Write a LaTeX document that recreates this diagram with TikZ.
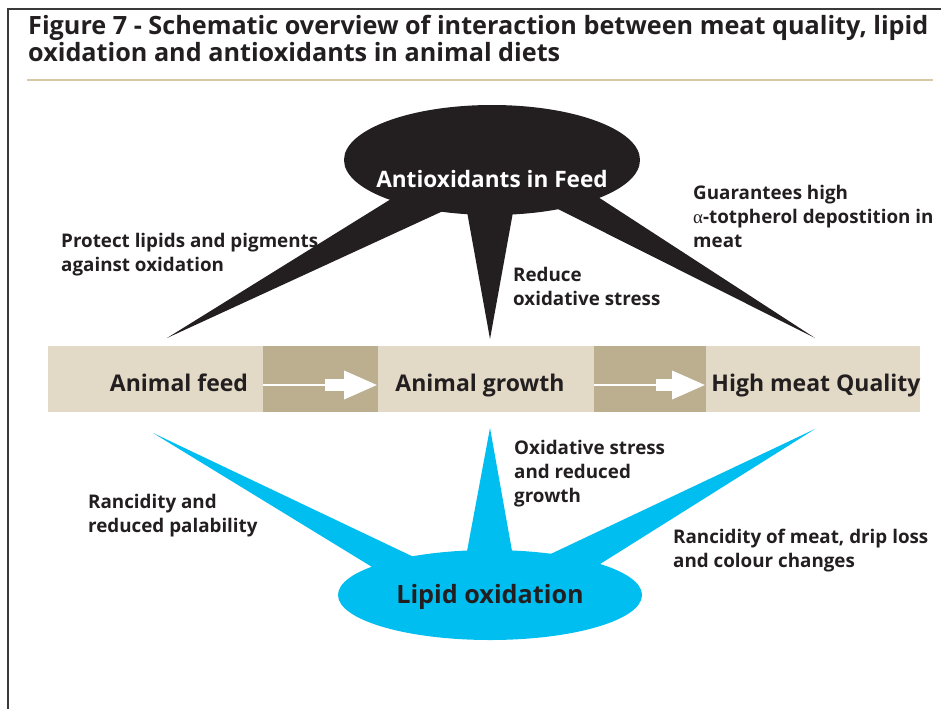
\documentclass[tikz,border=0pt]{standalone}
\usepackage{fontspec}
\setmainfont{Open Sans}
\newfontfamily\greekserif{Liberation Serif}
\usetikzlibrary{shapes.geometric,arrows.meta}

\definecolor{ink}{HTML}{231F20}
\definecolor{framegray}{HTML}{3A3A3A}
\definecolor{rulegold}{HTML}{D6CAA6}
\definecolor{sky}{HTML}{00BEF0}
\definecolor{sand}{HTML}{E2DAC7}
\definecolor{khaki}{HTML}{BCAF90}

\begin{document}
\begin{tikzpicture}[x=1pt,y=-1pt,
  every node/.style={inner sep=0pt},
  % multi-line nodes: the base anchor sits on the last line
  titletext/.style={anchor=base west, align=left, text=ink,
    font=\bfseries\fontsize{25.2}{24}\selectfont},
  note/.style={anchor=base west, align=left, text=ink,
    font=\bfseries\fontsize{18.8}{24}\selectfont},
  bandtext/.style={anchor=base, text=ink,
    font=\bfseries\fontsize{23}{26}\selectfont},
  bandbox/.style={rectangle, minimum height=66pt},
  shaft/.style={draw=white, line width=2pt},
  blockarrow/.style={draw=white, line width=12pt,
    -{Triangle[length=34pt,width=26pt]}},
]
\useasboundingbox (0,0) rectangle (941,709);

% outer frame (top and left edges)
\draw[framegray, line width=2pt] (941,9) -- (8,9) -- (8,709);

% heading and rule
\node[titletext] (title) at (28,61)
  {Figure 7 - Schematic overview of interaction between meat quality, lipid\\
   oxidation and antioxidants in animal diets};
\draw[rulegold, line width=2.7pt] (27,80) -- (933,80);

% antioxidant bubble with its three spikes
\node[ellipse, fill=ink, minimum width=296pt, minimum height=110pt] (anti) at (492,160) {};
\coordinate (tipfeed)    at (167,338);
\coordinate (tipgrowth)  at (490,339);
\coordinate (tipquality) at (815,338);
\fill[ink] (412,186) -- (tipfeed) -- (467,200) -- cycle;
\fill[ink] (464,195) -- (tipgrowth) -- (517,190) -- cycle;
\fill[ink] (578,184) -- (tipquality) -- (534,197) -- cycle;
\node[text=white, anchor=base, font=\bfseries\fontsize{22.6}{26}\selectfont]
  (antilabel) at (492,187) {Antioxidants in Feed};

% production chain band
\node[bandbox, fill=sand, minimum width=872pt] (band) at (484,379) {};
\node[bandbox, fill=khaki, minimum width=115pt] (linkA) at (320.5,379) {};
\node[bandbox, fill=khaki, minimum width=112pt] (linkB) at (650,379) {};
\coordinate (bendA) at (325,385);
\coordinate (bendB) at (656,385);
\draw[shaft] (linkA.west |- bendA) -- (bendA);
\draw[blockarrow] (bendA) -- (linkA.east |- bendA);
\draw[shaft] (linkB.west |- bendB) -- (bendB);
\draw[blockarrow] (bendB) -- (linkB.east |- bendB);
\node[bandtext] (feed)    at (179,391) {Animal feed};
\node[bandtext] (growth)  at (480,391) {Animal growth};
\node[bandtext] (quality) at (816,391) {High meat Quality};

% lipid oxidation bubble with its three spikes
\node[ellipse, fill=sky, minimum width=304pt, minimum height=90pt] (lipid) at (490,595) {};
\coordinate (rootfeed)    at (153,433);
\coordinate (rootgrowth)  at (490,428);
\coordinate (rootquality) at (815,429);
\fill[sky] (439,569) -- (rootfeed) -- (395,581) -- cycle;
\fill[sky] (465,562) -- (rootgrowth) -- (514,562) -- cycle;
\fill[sky] (521,568) -- (rootquality) -- (573,581) -- cycle;
\node[text=ink, anchor=base, font=\bfseries\fontsize{25.2}{30}\selectfont]
  (lipidlabel) at (490,603) {Lipid oxidation};

% effect notes
\node[note] (protect) at (61,271) {Protect lipids and pigments\\against oxidation};
\node[note] (reduce) at (513,305) {Reduce\\oxidative stress};
\node[note] (guarantee) at (693,247)
  {Guarantees high\\{\greekserif\mdseries α}-totpherol depostition in\\meat};
\node[note] (rancid) at (88,532) {Rancidity and\\reduced palability};
\node[note] (stress) at (514,502) {Oxidative stress\\and reduced\\growth};
\node[note] (drip) at (673,567) {Rancidity of meat, drip loss\\and colour changes};
\end{tikzpicture}
\end{document}
